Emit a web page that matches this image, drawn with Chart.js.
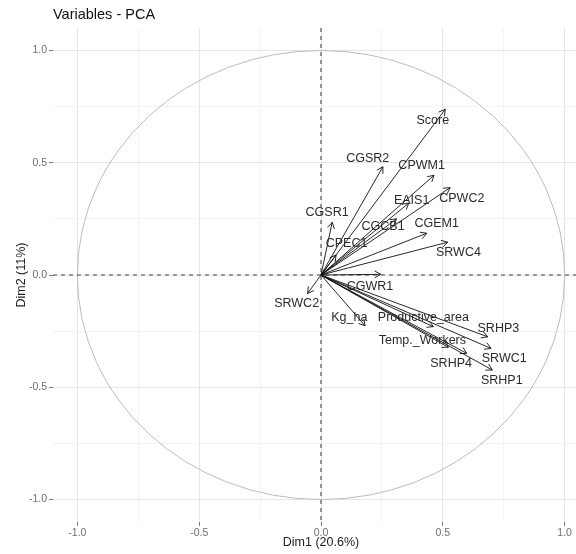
<!DOCTYPE html>
<html>
<head>
<meta charset="utf-8">
<script src="https://cdn.jsdelivr.net/npm/chart.js@4"></script>
<style>
  html, body { margin: 0; padding: 0; background: #fff; overflow: hidden; }
  #wrap { width: 589px; height: 554px; }
</style>
</head>
<body>
<div id="wrap"><canvas id="chart" width="589" height="554"></canvas></div>
<script>
const variables = ['Score', 'CGSR2', 'CPWM1', 'CPWC2', 'EAIS1', 'CGCB1', 'CGEM1', 'SRWC4', 'CGSR1', 'CPEC1',
  'CGWR1', 'SRWC2', 'Kg_ha', 'Productive_area', 'SRHP3', 'SRWC1', 'SRHP1', 'SRHP4', 'Temp._Workers'];
const dim1 = [0.510, 0.254, 0.464, 0.530, 0.360, 0.310, 0.434, 0.520, 0.046, 0.062,
  0.245, -0.055, 0.181, 0.461, 0.684, 0.698, 0.703, 0.598, 0.523];
const dim2 = [0.738, 0.482, 0.444, 0.389, 0.320, 0.250, 0.186, 0.146, 0.235, 0.089,
  0.003, -0.082, -0.226, -0.230, -0.275, -0.327, -0.423, -0.349, -0.322];
// where each name sits (read off the picture, not always at the tip)
const labelX = [0.459, 0.192, 0.413, 0.578, 0.372, 0.255, 0.475, 0.564, 0.025, 0.105,
  0.201, -0.100, 0.116, 0.420, 0.728, 0.752, 0.742, 0.534, 0.416];
const labelY = [0.686, 0.520, 0.486, 0.342, 0.330, 0.218, 0.230, 0.099, 0.279, 0.138,
  -0.052, -0.129, -0.190, -0.190, -0.237, -0.371, -0.468, -0.396, -0.290];

const xTitle = 'Dim1 (20.6%)';
const yTitle = 'Dim2 (11%)';
const chartTitle = 'Variables - PCA';

const tickColor = '#6e6e6e';
const majorGrid = '#e6e6e6';
const minorGrid = '#f1f1f1';

const isMajor = v => Math.abs(Math.round(v * 2) - v * 2) < 1e-6;

const datasets = variables.map((name, i) => ({
  label: name,
  data: [{ x: 0, y: 0 }, { x: dim1[i], y: dim2[i] }],
  showLine: true,
  borderColor: '#111',
  borderWidth: 0.9,
  pointRadius: 0,
  fill: false
}));

const pcaDecor = {
  id: 'pcaDecor',
  beforeDatasetsDraw(chart) {
    const { ctx, chartArea: a, scales: { x, y } } = chart;
    const cx = x.getPixelForValue(0);
    const cy = y.getPixelForValue(0);
    ctx.save();
    // correlation circle
    ctx.strokeStyle = '#bcbcbc';
    ctx.lineWidth = 1;
    ctx.beginPath();
    ctx.ellipse(cx, cy, x.getPixelForValue(1) - cx, cy - y.getPixelForValue(1), 0, 0, 2 * Math.PI);
    ctx.stroke();
    // dashed zero lines
    ctx.strokeStyle = '#444';
    ctx.lineWidth = 1.1;
    ctx.setLineDash([4, 4]);
    ctx.beginPath();
    ctx.moveTo(a.left, cy); ctx.lineTo(a.right, cy);
    ctx.moveTo(cx, a.top); ctx.lineTo(cx, a.bottom);
    ctx.stroke();
    ctx.restore();
  },
  afterDatasetsDraw(chart) {
    const { ctx, scales: { x, y } } = chart;
    const ox = x.getPixelForValue(0);
    const oy = y.getPixelForValue(0);
    ctx.save();
    ctx.strokeStyle = '#111';
    ctx.lineWidth = 0.9;
    const len = 7, spread = Math.PI / 6;
    dim1.forEach((v, i) => {
      const tx = x.getPixelForValue(v);
      const ty = y.getPixelForValue(dim2[i]);
      const ang = Math.atan2(ty - oy, tx - ox);
      ctx.beginPath();
      ctx.moveTo(tx - len * Math.cos(ang - spread), ty - len * Math.sin(ang - spread));
      ctx.lineTo(tx, ty);
      ctx.lineTo(tx - len * Math.cos(ang + spread), ty - len * Math.sin(ang + spread));
      ctx.stroke();
    });
    ctx.font = '12.5px "Liberation Sans", Arial, sans-serif';
    ctx.fillStyle = '#2b2b2b';
    ctx.textAlign = 'center';
    ctx.textBaseline = 'middle';
    variables.forEach((name, i) => {
      ctx.fillText(name, x.getPixelForValue(labelX[i]), y.getPixelForValue(labelY[i]));
    });
    ctx.restore();
  }
};

const axisCommon = {
  type: 'linear',
  min: -1.1,
  max: 1.1,
  border: { display: false },
  grid: {
    color: c => isMajor(c.tick.value) ? majorGrid : minorGrid,
    lineWidth: c => isMajor(c.tick.value) ? 1 : 0.8,
    drawTicks: true,
    tickLength: 4,
    tickColor: c => isMajor(c.tick.value) ? '#777' : 'rgba(0,0,0,0)'
  },
  ticks: {
    stepSize: 0.25,
    includeBounds: false,
    autoSkip: false,
    maxRotation: 0,
    color: tickColor,
    font: { family: '"Liberation Sans", Arial, sans-serif', size: 10.5 },
    callback: v => isMajor(v) ? v.toFixed(1) : ''
  }
};

new Chart(document.getElementById('chart'), {
  type: 'scatter',
  data: { datasets },
  options: {
    responsive: false,
    animation: false,
    layout: { padding: 0 },
    plugins: {
      legend: { display: false },
      tooltip: { enabled: false },
      title: {
        display: true,
        text: chartTitle,
        align: 'start',
        fullSize: false,
        color: '#111',
        font: { family: '"Liberation Sans", Arial, sans-serif', size: 14.5, weight: 'normal' },
        padding: { top: 6, bottom: 4.6 }
      }
    },
    scales: {
      x: {
        ...axisCommon,
        position: 'bottom',
        ticks: { ...axisCommon.ticks, padding: 1 },
        title: {
          display: true,
          text: xTitle,
          color: '#222',
          font: { family: '"Liberation Sans", Arial, sans-serif', size: 12.5 },
          padding: { top: 4 }
        },
        afterFit: s => { s.height = 32; }
      },
      y: {
        ...axisCommon,
        position: 'left',
        ticks: { ...axisCommon.ticks, padding: 2 },
        title: {
          display: true,
          text: yTitle,
          color: '#222',
          font: { family: '"Liberation Sans", Arial, sans-serif', size: 12.5 },
          padding: { top: 14 }
        },
        afterFit: s => { s.width = 53; }
      }
    }
  },
  plugins: [pcaDecor]
});
</script>
</body>
</html>
